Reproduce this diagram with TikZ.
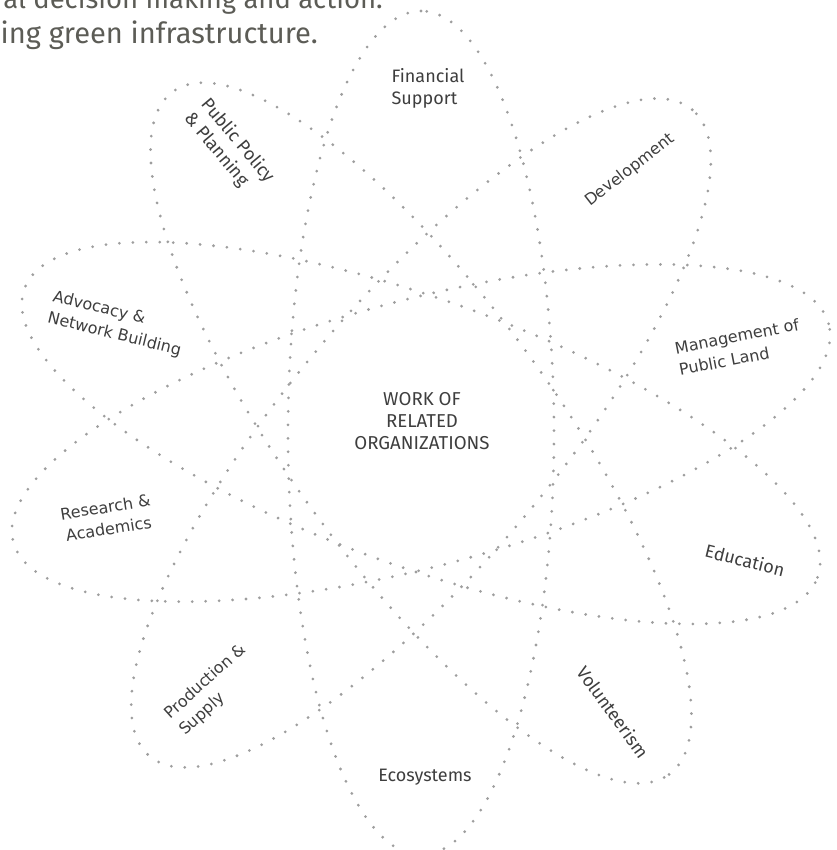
\documentclass[tikz,border=0pt]{standalone}
\usepackage{fontspec}
\setmainfont{Fira Sans}
\newfontfamily\dvs{DejaVu Sans}
\newfontfamily\fira{Fira Sans}
\definecolor{dotgray}{RGB}{158,158,158}
\definecolor{labelgray}{RGB}{62,62,62}
\definecolor{headgray}{RGB}{92,92,86}
\tikzset{
  dotline/.style={draw=dotgray, line width=2.3pt, line cap=round, dash pattern=on 0pt off 10.1pt},
  petal/.style={dotline},
  lblA/.style={text=labelgray, font=\fira\fontsize{13.5}{16.5}\selectfont, inner sep=0pt},
  lblC/.style={text=labelgray, font=\fira\fontsize{14}{16.5}\selectfont, inner sep=0pt},
  lblB/.style={text=labelgray, font=\dvs\fontsize{12}{16.5}\selectfont, inner sep=0pt},
  headtxt/.style={text=headgray, font=\fira\fontsize{21.8}{24}\selectfont, inner sep=0pt},
  headtxtA/.style={text=headgray, font=\fira\fontsize{20.6}{24}\selectfont, inner sep=0pt}
}
\begin{document}
\begin{tikzpicture}[x=0.75pt,y=-0.75pt]
\useasboundingbox (0,0) rectangle (837,850);
\clip (0,0) rectangle (837,850);
\coordinate (C) at (421,433);
\foreach \ang in {90,50,15,-20,-54}{
  \draw[petal, rotate around={\ang:(C)}] (C) ellipse [x radius=316.5pt, y radius=99.75pt];
}
\node[headtxtA, anchor=base east] (head1) at (383,8) {al decision making and action.};
\node[headtxt, anchor=base east] (head2) at (318,43) {ing green infrastructure.};

\node[lblC, align=center] (center) at (422,421) {WORK OF\\RELATED\\ORGANIZATIONS};
\node[lblA, align=left] (fin) at (428,88) {Financial\\Support};
\node[lblA, align=left, rotate=-50] (pub) at (229,148) {Public Policy\\\& Planning};
\node[lblB, rotate=38] (dev) at (630,170) {Development};
\node[lblB, align=left, rotate=11] (mgmt) at (739,347) {Management of\\Public Land};
\node[lblA, rotate=-14] (edu) at (745,560) {Education};
\node[lblA, rotate=-54] (vol) at (613,712) {Volunteerism};
\node[lblA] (eco) at (425,777) {Ecosystems};
\node[lblB, align=left, rotate=42] (prod) at (213,690) {Production \&\\Supply};
\node[lblB, align=center, rotate=9] (res) at (107,518) {Research \&\\Academics};
\node[lblB, align=left, rotate=-14] (adv) at (117,324) {Advocacy \&\\Network Building};
\end{tikzpicture}
\end{document}
